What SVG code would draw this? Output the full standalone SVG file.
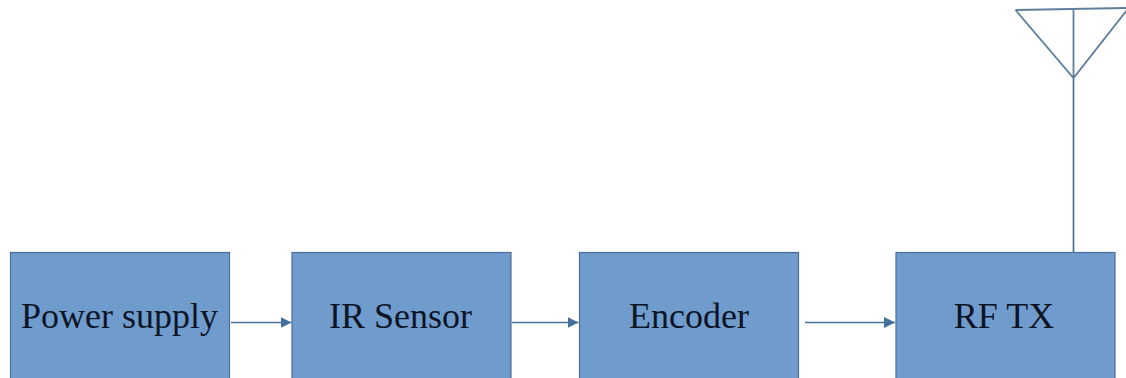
<svg xmlns="http://www.w3.org/2000/svg" width="1126" height="378" viewBox="0 0 1126 378">
<defs>
<marker id="arrow" markerUnits="userSpaceOnUse" markerWidth="12" markerHeight="12" refX="11" refY="6" orient="auto"><path d="M0 0.500L11 6L0 11.500Z" fill="#41719c"/></marker>
</defs>
<style>
.box{fill:#709bcd;stroke:#4a6f96;stroke-width:1.2}
.lbl{font-family:"Liberation Serif","Times New Roman",serif;font-size:36px;fill:#0c1526;text-anchor:middle}
.con{fill:none;stroke:#4a7299;stroke-width:1.7}
.ant{fill:none;stroke:#5f7f9e;stroke-width:1.8}
</style>
<rect width="1126" height="378" fill="#fff"/>
<g id="connectors">
<path class="con" marker-end="url(#arrow)" d="M231 322.500H291.500"/>
<path class="con" marker-end="url(#arrow)" d="M512 322.500H578.500"/>
<path class="con" marker-end="url(#arrow)" d="M805 322.500H895"/>
<path class="con" d="M1073.500 252V78"/>
</g>
<g id="power-supply"><rect class="box" x="10.500" y="252.500" width="219" height="130"/><text class="lbl" x="119.500" y="328">Power supply</text></g>
<g id="ir-sensor"><rect class="box" x="292" y="252.500" width="219" height="130"/><text class="lbl" x="400.500" y="328">IR Sensor</text></g>
<g id="encoder"><rect class="box" x="579.500" y="252.500" width="219" height="130"/><text class="lbl" x="689" y="328">Encoder</text></g>
<g id="rf-tx"><rect class="box" x="896" y="252.500" width="219" height="130"/><text class="lbl" x="1004" y="328">RF TX</text></g>
<g id="antenna">
<path class="ant" d="M1015.500 10L1126 8M1015.500 10L1073.500 78L1127 10M1073.500 10V78"/>
</g>
</svg>
